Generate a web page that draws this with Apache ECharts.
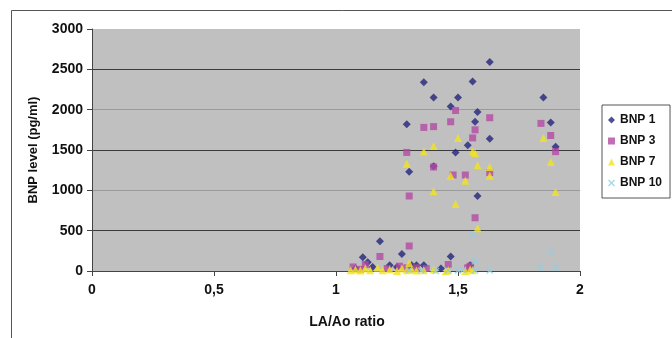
<!DOCTYPE html>
<html>
<head>
<meta charset="utf-8">
<script src="https://cdn.jsdelivr.net/npm/echarts@6/dist/echarts.min.js"></script>
<style>html,body{margin:0;padding:0;background:#fff;}#c{width:672px;height:338px;}</style>
</head>
<body>
<div id="c"></div>
<script>
// ---- data ----
var seriesNames = ['BNP 1', 'BNP 3', 'BNP 7', 'BNP 10'];
var xTicks = [0, 0.5, 1, 1.5, 2];
var yTicks = [0, 500, 1000, 1500, 2000, 2500, 3000];

var bnp1 = [
  [1.36,2340],[1.56,2350],[1.63,2590],[1.40,2150],[1.50,2150],[1.47,2040],[1.58,1970],
  [1.57,1850],[1.29,1820],[1.54,1560],[1.49,1470],[1.40,1300],[1.30,1230],[1.58,930],
  [1.63,1640],[1.85,2150],[1.88,1840],[1.90,1540],
  [1.18,370],[1.27,210],[1.11,170],[1.13,110],[1.47,180],[1.55,70],[1.15,50],[1.22,70],
  [1.31,70],[1.33,70],[1.36,70],[1.08,30],[1.25,50],[1.43,30]
];
var bnp3 = [
  [1.49,1990],[1.47,1850],[1.36,1780],[1.40,1790],[1.57,1750],[1.56,1650],[1.63,1900],
  [1.29,1470],[1.40,1290],[1.48,1190],[1.53,1190],[1.63,1220],[1.30,930],[1.57,660],
  [1.84,1830],[1.88,1680],[1.90,1480],
  [1.30,310],[1.18,180],[1.46,80],[1.07,50],[1.12,80],[1.21,30],[1.26,60],[1.29,40],
  [1.33,40],[1.37,30],[1.54,40],[1.55,60],[1.10,20]
];
var bnp7 = [
  [1.50,1650],[1.40,1550],[1.36,1480],[1.56,1480],[1.57,1460],[1.29,1330],[1.58,1310],
  [1.63,1290],[1.63,1180],[1.47,1180],[1.53,1120],[1.40,990],[1.49,830],[1.58,530],
  [1.85,1650],[1.88,1350],[1.90,980],
  [1.30,100],[1.06,10],[1.08,20],[1.10,5],[1.12,30],[1.14,10],[1.17,40],[1.19,10],
  [1.22,20],[1.25,0],[1.27,30],[1.29,10],[1.31,20],[1.33,5],[1.36,10],[1.40,20],
  [1.46,10],[1.55,20],[1.56,10],[1.45,0],[1.53,0]
];
var bnp10 = [
  [1.56,450],[1.88,240],[1.57,120],[1.41,0],[1.57,5],[1.63,5],[1.84,40],[1.90,40],
  [1.30,10],[1.46,5],[1.50,5],[1.52,10],[1.35,5]
];

// ---- chart ----
var FONT = "'Liberation Sans', Arial, sans-serif";
var crossPath = 'path://M0,1.4 L1.4,0 L5,3.6 L8.6,0 L10,1.4 L6.4,5 L10,8.6 L8.6,10 L5,6.4 L1.4,10 L0,8.6 L3.6,5 Z';

var chart = echarts.init(document.getElementById('c'), null, {renderer: 'canvas'});
var option = {
  animation: false,
  backgroundColor: '#ffffff',
  graphic: [{
    type: 'rect', silent: true, z: -10,
    shape: {x: 11.5, y: 10.5, width: 800, height: 500},
    style: {fill: 'none', stroke: '#555', lineWidth: 1}
  }],
  grid: {
    left: 92, top: 29, right: 92, bottom: 67,
    show: true, backgroundColor: '#c0c0c0', borderWidth: 0
  },
  legend: {
    orient: 'vertical',
    left: 602, top: 105,
    padding: [8, 8, 8, 6],
    itemWidth: 7, itemHeight: 7, itemGap: 7,
    backgroundColor: '#fff',
    borderColor: '#555', borderWidth: 1,
    data: seriesNames,
    textStyle: {fontFamily: FONT, fontWeight: 'bold', fontSize: 12, color: '#111', lineHeight: 14}
  },
  xAxis: {
    type: 'value', min: xTicks[0], max: xTicks[xTicks.length - 1], interval: 0.5,
    name: 'LA/Ao ratio', nameLocation: 'middle', nameGap: 44, nameMoveOverlap: false,
    nameTextStyle: {fontFamily: FONT, fontWeight: 'bold', fontSize: 14, color: '#111', padding: [0, 0, 0, 22]},
    axisLine: {show: true, onZero: false, lineStyle: {color: '#444', width: 1}},
    axisTick: {show: true, length: 5, lineStyle: {color: '#444'}},
    axisLabel: {
      margin: 12, fontFamily: FONT, fontWeight: 'bold', fontSize: 14, color: '#111',
      formatter: function (v) { return String(v).replace('.', ','); }
    },
    splitLine: {show: false}
  },
  yAxis: {
    type: 'value', min: yTicks[0], max: yTicks[yTicks.length - 1], interval: 500,
    name: 'BNP level (pg/ml)', nameLocation: 'middle', nameGap: 52, nameRotate: 90, nameMoveOverlap: false,
    nameTextStyle: {fontFamily: FONT, fontWeight: 'bold', fontSize: 13, color: '#111'},
    axisLine: {show: true, onZero: false, lineStyle: {color: '#444', width: 1}},
    axisTick: {show: true, length: 5, lineStyle: {color: '#444'}},
    axisLabel: {margin: 9, fontFamily: FONT, fontWeight: 'bold', fontSize: 14, color: '#111',
      formatter: function (v) { return String(v); }},
    splitLine: {
      show: true, showMaxLine: false,
      lineStyle: {color: ['#444', '#3c3c3c', '#9a9a9a', '#3c3c3c', '#9a9a9a', '#3c3c3c', '#c0c0c0'], width: 1}
    }
  },
  series: [
    {name: seriesNames[0], type: 'scatter', data: bnp1, symbol: 'diamond', symbolSize: 8,
     itemStyle: {color: '#23237a'}},
    {name: seriesNames[1], type: 'scatter', data: bnp3, symbol: 'rect', symbolSize: 7,
     itemStyle: {color: '#b24aa2'}},
    {name: seriesNames[2], type: 'scatter', data: bnp7, symbol: 'triangle', symbolSize: 8,
     itemStyle: {color: '#f2e41c'}},
    {name: seriesNames[3], type: 'scatter', data: bnp10, symbol: crossPath, symbolSize: 7,
     itemStyle: {color: '#8fd0e4'}}
  ]
};
chart.setOption(option);
</script>
</body>
</html>
